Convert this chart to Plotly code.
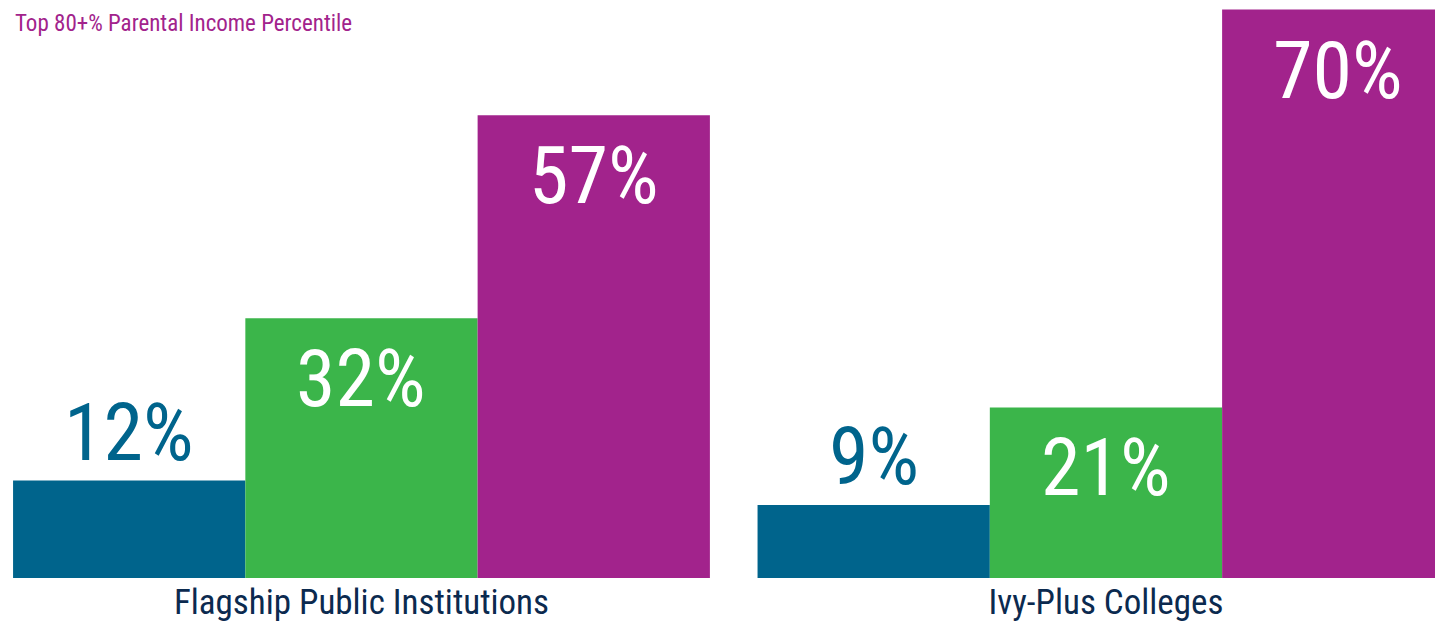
import plotly.graph_objects as go

groups = ["Flagship Public Institutions", "Ivy-Plus Colleges"]
series_names = ["Bottom", "Middle", "Top 80+%"]
bottom_vals = [12, 9]
middle_vals = [32, 21]
top_vals = [57, 70]
title_text = "Top 80+% Parental Income Percentile"

colors = ["#00648C", "#3BB54A", "#A2238C"]
FONT = "Roboto Condensed, DejaVu Sans Condensed, sans-serif"
BARGAP = 0.064
W, H = 1435, 620
MB = 50
PLOT_H = H - MB

fig = go.Figure()
all_vals = [bottom_vals, middle_vals, top_vals]
for name, vals, col in zip(series_names, all_vals, colors):
    fig.add_trace(go.Bar(x=groups, y=vals, name=name, marker=dict(color=col, line=dict(width=0)),
                         hoverinfo="skip"))

bw = (1 - BARGAP) / 3
annotations = []
for j, vals in enumerate(all_vals):
    for i, v in enumerate(vals):
        inside = j > 0
        annotations.append(dict(
            x=i + (j - 1) * bw, y=v, xref="x", yref="y",
            text=f"{v}%", showarrow=False, yanchor="middle",
            yshift=-61 if inside else 48,
            font=dict(family=FONT, size=80, color="white" if inside else colors[0]),
        ))
annotations.append(dict(x=5 / W, y=1, xref="paper", yref="paper", text=title_text,
                        showarrow=False, xanchor="left", yanchor="top",
                        font=dict(family=FONT, size=23, color="#A2238C")))

fig.update_layout(
    width=W, height=H,
    margin=dict(l=0, r=0, t=0, b=MB),
    barmode="group", bargap=BARGAP, bargroupgap=0,
    showlegend=False,
    plot_bgcolor="white", paper_bgcolor="white",
    annotations=annotations,
    xaxis=dict(type="category", range=[-0.4748, 1.4527], showgrid=False, zeroline=False,
               showline=False, ticks="",
               tickfont=dict(family=FONT, size=35, color="#0B2A4F")),
    yaxis=dict(range=[0, 70.2], visible=False, showgrid=False, zeroline=False),
)
fig.write_html("out.html")
